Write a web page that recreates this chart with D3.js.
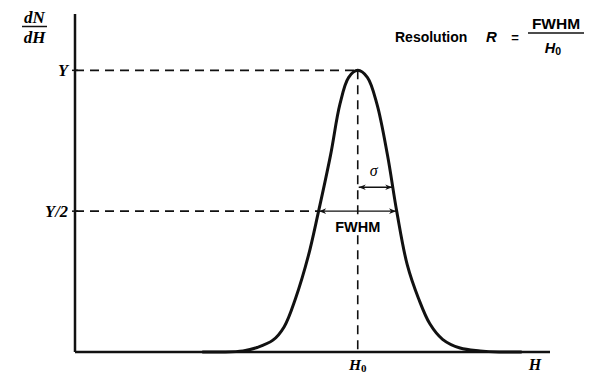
<!DOCTYPE html>
<html lang="en">
<head>
<meta charset="UTF-8"/>
<title>Resolution – FWHM</title>
<style>
  * { margin:0; padding:0; box-sizing:border-box }
  body { background:#fff; width:593px; height:373px; overflow:hidden; }
  svg { display:block; }
  .serif { font-family:'Liberation Serif','DejaVu Serif',serif; font-style:italic; font-weight:700; }
  .sans  { font-family:'Liberation Sans',Arial,sans-serif; font-weight:700; }
</style>
</head>
<body>
<div id="chart"></div>
<script src="https://d3js.org/d3.v7.min.js"></script>
<script>
// curve: H (H0 = 100) and dN/dH (Y = 1)
const curveH = [45, 52, 59.4, 64.4, 70, 74, 78, 82.5, 86, 90.4, 93.7, 96.8, 100,
                103.4, 106.8, 110.5, 113.9, 117.5, 121.5, 125.5, 130, 136.2, 143.3, 150, 158];
const curveY = [0, 0, 0.004, 0.016, 0.042, 0.09, 0.19, 0.34, 0.493, 0.70, 0.88, 0.975, 1.0,
                0.975, 0.88, 0.70, 0.493, 0.31, 0.19, 0.10, 0.045, 0.014, 0.004, 0, 0];

const H0 = 100, peakY = 1, halfY = 0.5;
const fwhmLeft = 86, fwhmRight = 113.9;
const sigmaLevel = 0.585, sigmaRight = 112.2;
const tickLabels = ["Y", "Y/2"];

const W = 593, H = 373;
const x = d3.scaleLinear().domain([0, 168]).range([75, 550]);
const y = d3.scaleLinear().domain([0, 1.2]).range([352, 14]);

const svg = d3.select("#chart").append("svg").attr("width", W).attr("height", H);

const defs = svg.append("defs");
defs.append("marker").attr("id", "ah")
  .attr("viewBox", "0 0 10 10").attr("refX", 10).attr("refY", 5)
  .attr("markerWidth", 9).attr("markerHeight", 7).attr("markerUnits", "userSpaceOnUse")
  .attr("orient", "auto-start-reverse")
  .append("path").attr("d", "M0,1 L10,5 L0,9 L3,5 Z").attr("fill", "#111");

// axes
svg.append("line").attr("x1", x(0)).attr("x2", x(0)).attr("y1", y(1.2)).attr("y2", y(0))
  .attr("stroke", "#111").attr("stroke-width", 2.5);
svg.append("line").attr("x1", x(0)).attr("x2", x(168)).attr("y1", y(0)).attr("y2", y(0))
  .attr("stroke", "#111").attr("stroke-width", 2.5);

// dashed guides
const dash = g => g.attr("stroke", "#111").attr("stroke-width", 1.6).attr("stroke-dasharray", "9,6").attr("fill", "none");
svg.append("line").attr("x1", x(0)).attr("x2", x(H0)).attr("y1", y(peakY)).attr("y2", y(peakY)).call(dash);
svg.append("line").attr("x1", x(H0)).attr("x2", x(H0)).attr("y1", y(peakY)).attr("y2", y(0)).call(dash);
svg.append("line").attr("x1", x(0)).attr("x2", x(fwhmLeft)).attr("y1", y(halfY)).attr("y2", y(halfY)).call(dash);

// ticks at Y and Y/2
[peakY, halfY].forEach((v, i) => {
  svg.append("line").attr("x1", x(0) - 3).attr("x2", x(0) + 3).attr("y1", y(v)).attr("y2", y(v))
    .attr("stroke", "#111").attr("stroke-width", 1.5);
  svg.append("text").attr("class", "serif").attr("x", 68).attr("y", y(v) + 6)
    .attr("text-anchor", "end").attr("font-size", 16.5).text(tickLabels[i]);
});

// the peak
const pts = curveH.map((h, i) => [h, curveY[i]]);
svg.append("path").datum(pts)
  .attr("d", d3.line().x(d => x(d[0])).y(d => y(d[1])).curve(d3.curveCatmullRom.alpha(0.5)))
  .attr("fill", "none").attr("stroke", "#111").attr("stroke-width", 3).attr("stroke-linejoin", "round");

// FWHM arrow
svg.append("line").attr("x1", x(H0)).attr("x2", x(fwhmLeft) + 1).attr("y1", y(halfY)).attr("y2", y(halfY))
  .attr("stroke", "#111").attr("stroke-width", 1.2).attr("marker-end", "url(#ah)");
svg.append("line").attr("x1", x(H0)).attr("x2", x(fwhmRight) - 1).attr("y1", y(halfY)).attr("y2", y(halfY))
  .attr("stroke", "#111").attr("stroke-width", 1.2).attr("marker-end", "url(#ah)");
svg.append("rect").attr("x", x(H0) - 24).attr("y", y(halfY) + 6).attr("width", 48).attr("height", 17).attr("fill", "#fff");
svg.append("text").attr("class", "sans").attr("x", x(H0)).attr("y", y(halfY) + 21)
  .attr("text-anchor", "middle").attr("font-size", 14.5).text("FWHM");

// sigma arrow
svg.append("line").attr("x1", x(H0) + 1).attr("x2", x(sigmaRight)).attr("y1", y(sigmaLevel)).attr("y2", y(sigmaLevel))
  .attr("stroke", "#111").attr("stroke-width", 1.4)
  .attr("marker-start", "url(#ah)").attr("marker-end", "url(#ah)");
svg.append("text").attr("x", x(H0) + 16).attr("y", y(sigmaLevel) - 11)
  .attr("font-family", "'Liberation Serif',serif").attr("font-style", "italic")
  .attr("text-anchor", "middle").attr("font-size", 16).text("σ");

// axis labels
const xl = svg.append("text").attr("class", "serif").attr("x", x(H0)).attr("y", 370)
  .attr("text-anchor", "middle").attr("font-size", 15.5);
xl.append("tspan").text("H");
xl.append("tspan").attr("font-size", 11).attr("font-style", "normal").attr("dy", 2).text("0");
svg.append("text").attr("class", "serif").attr("x", 535).attr("y", 370)
  .attr("text-anchor", "middle").attr("font-size", 16).text("H");

svg.append("text").attr("class", "serif").attr("x", 34.5).attr("y", 23)
  .attr("text-anchor", "middle").attr("font-size", 17).text("dN");
svg.append("line").attr("x1", 22).attr("x2", 47).attr("y1", 26.5).attr("y2", 26.5)
  .attr("stroke", "#111").attr("stroke-width", 1.5);
svg.append("text").attr("class", "serif").attr("x", 34.5).attr("y", 43)
  .attr("text-anchor", "middle").attr("font-size", 17).text("dH");

// resolution formula
svg.append("text").attr("class", "sans").attr("x", 395).attr("y", 42)
  .attr("font-size", 14).text("Resolution");
svg.append("text").attr("class", "sans").attr("x", 486).attr("y", 42)
  .attr("font-style", "italic").attr("font-size", 15).text("R");
svg.append("text").attr("class", "sans").attr("x", 515).attr("y", 42)
  .attr("text-anchor", "middle").attr("font-size", 13).text("=");
svg.append("text").attr("class", "sans").attr("x", 556).attr("y", 29)
  .attr("text-anchor", "middle").attr("font-size", 15.5).text("FWHM");
svg.append("line").attr("x1", 528).attr("x2", 584).attr("y1", 33).attr("y2", 33)
  .attr("stroke", "#111").attr("stroke-width", 1.5);
const hf = svg.append("text").attr("class", "sans").attr("x", 553).attr("y", 53)
  .attr("text-anchor", "middle").attr("font-size", 14.5).attr("font-style", "italic");
hf.append("tspan").text("H");
hf.append("tspan").attr("font-size", 10.5).attr("font-style", "normal").attr("dy", 2).text("0");
</script>
</body>
</html>
